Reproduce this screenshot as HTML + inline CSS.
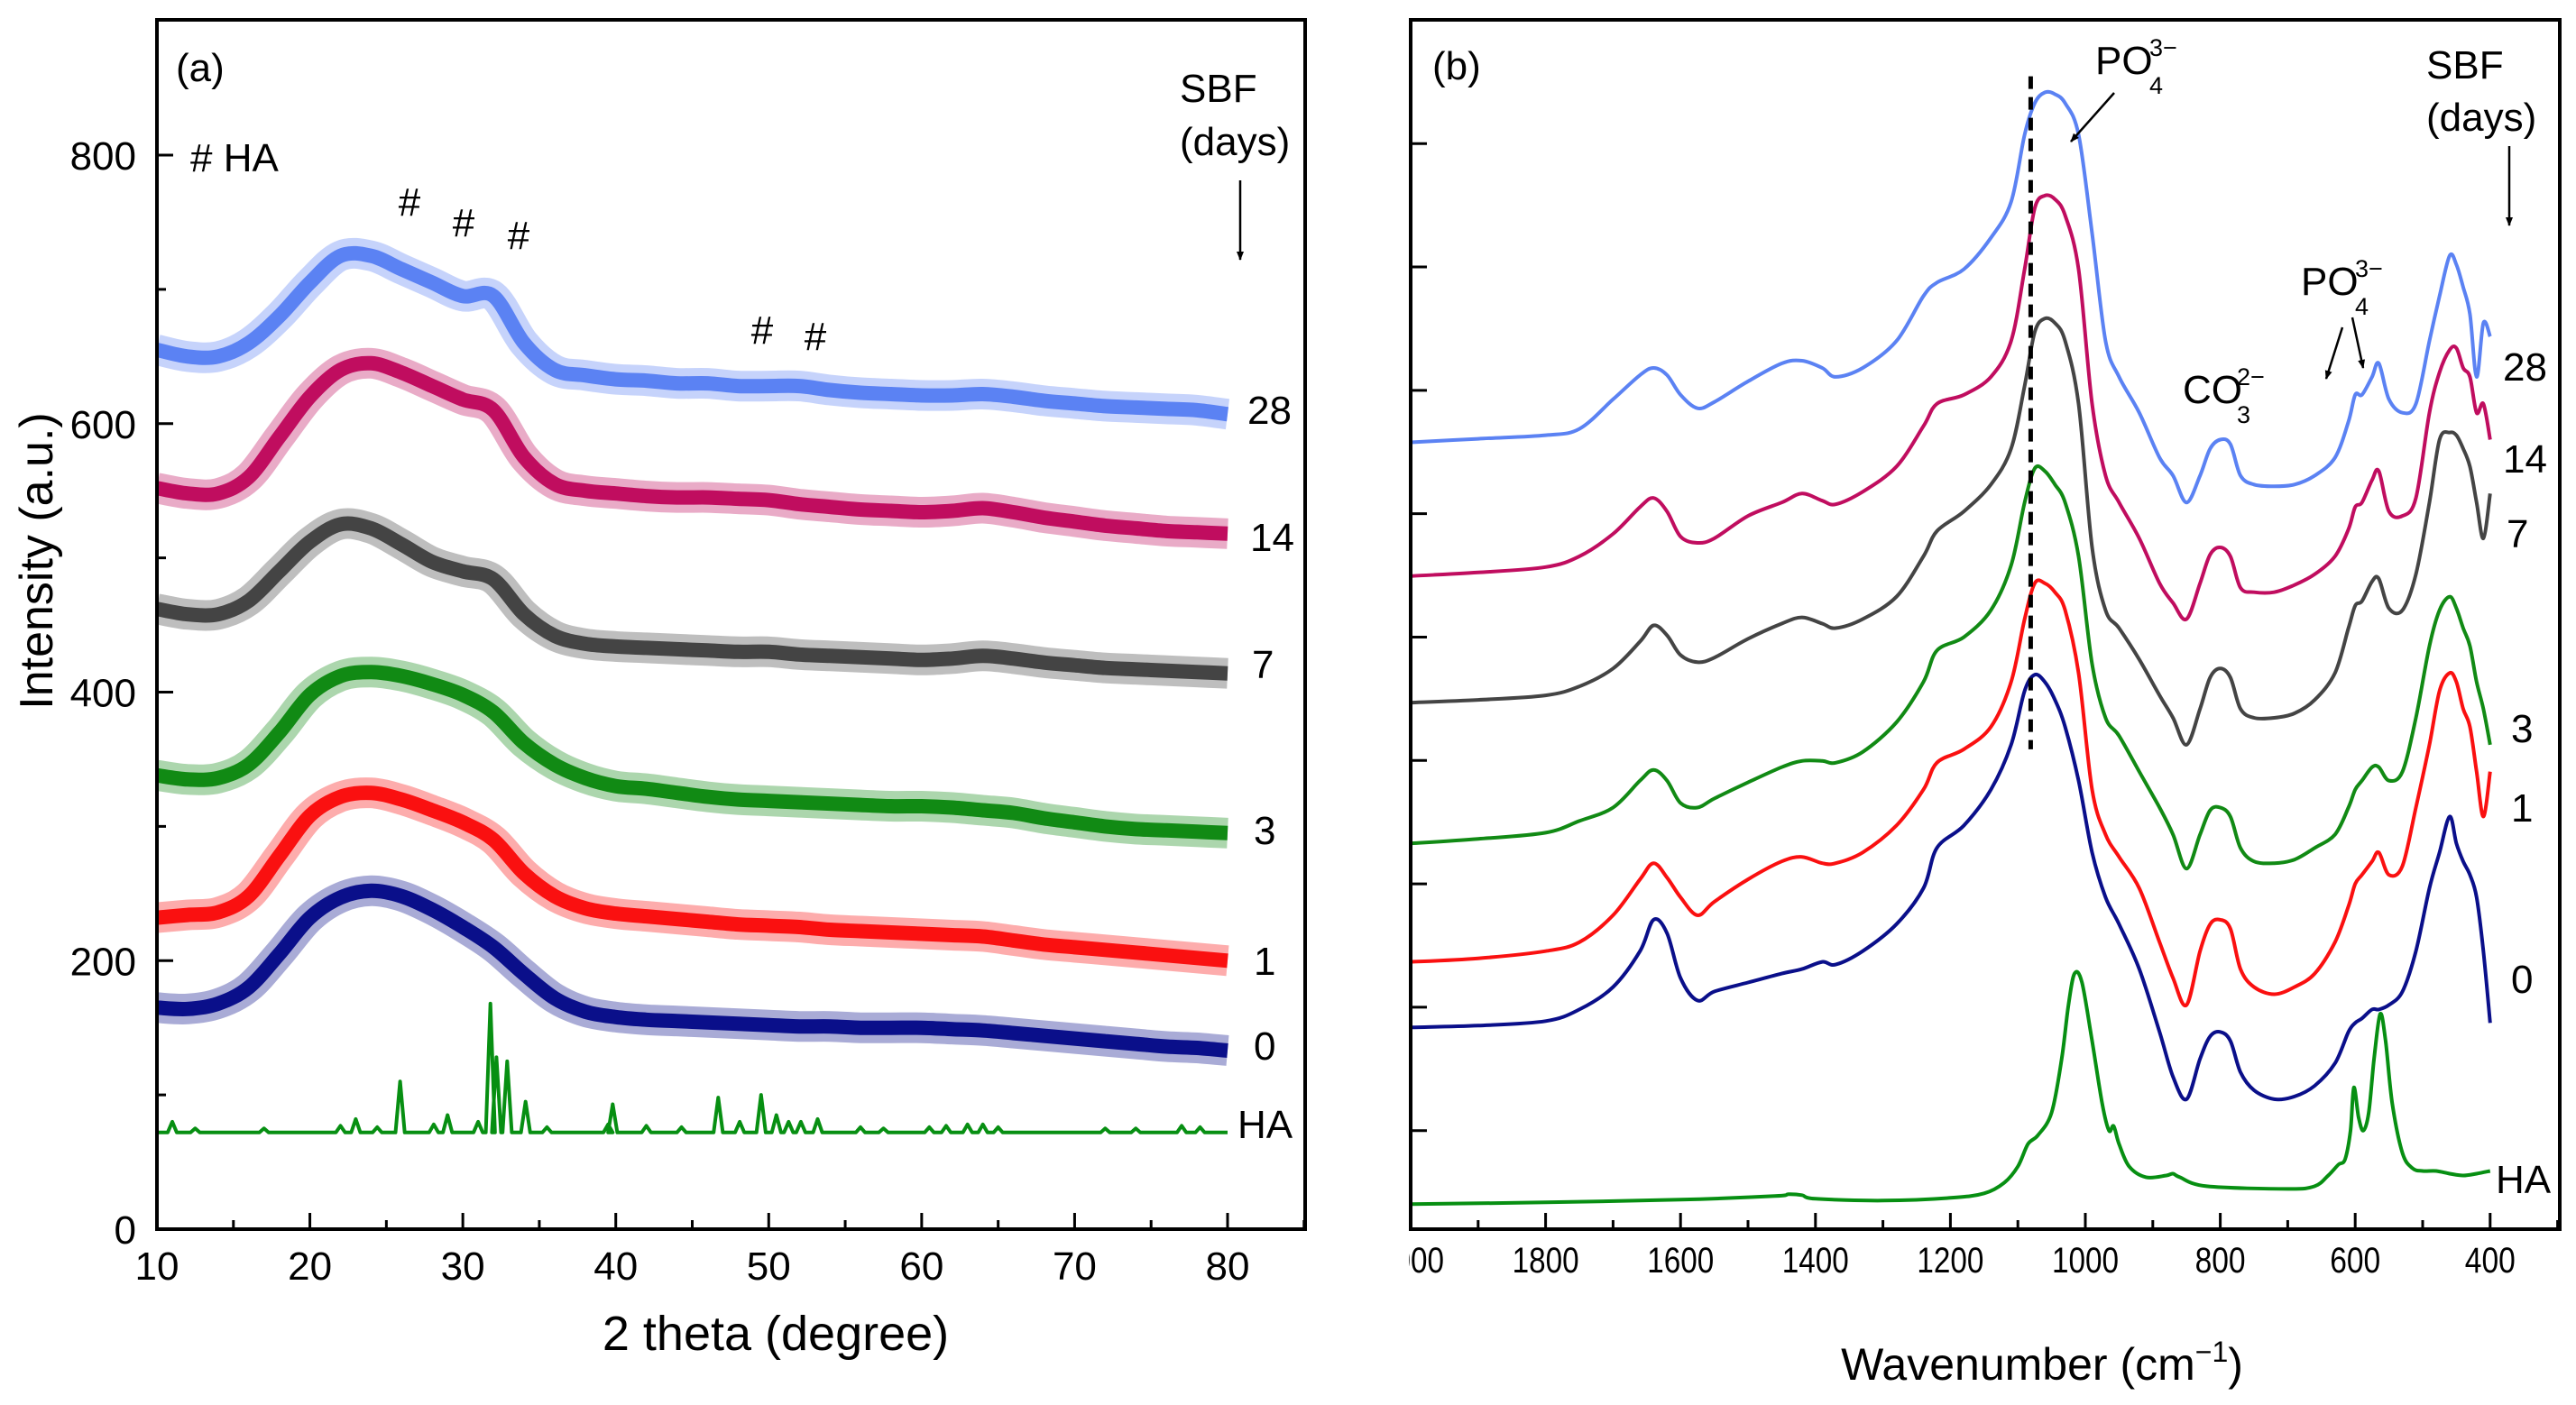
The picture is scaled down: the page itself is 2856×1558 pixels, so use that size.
<!DOCTYPE html>
<html><head><meta charset="utf-8">
<style>
html,body{margin:0;padding:0;background:#fff;}
svg{display:block;}
text{font-family:"Liberation Sans",Arial,sans-serif;fill:#000;}
</style></head>
<body>
<svg id="fig" width="2856" height="1558" viewBox="0 0 2856 1558" xmlns="http://www.w3.org/2000/svg">
<defs>
<marker id="ah" markerWidth="10" markerHeight="10" refX="9" refY="5" orient="auto" markerUnits="userSpaceOnUse" viewBox="0 0 10 10">
<path d="M0,1 L10,5 L0,9 Z" fill="#000"/>
</marker>
<clipPath id="clipA"><rect x="174" y="22" width="1273" height="1341"/></clipPath>
<clipPath id="clipB"><rect x="1564" y="22" width="1274" height="1341"/></clipPath>
<clipPath id="clipLbl"><rect x="1562" y="1360" width="1294" height="100"/></clipPath>
</defs>
<g id="panelA"></g>
<g id="panelB"></g>
</svg>
<script>
// ---------- Panel (a) XRD data ----------
const xrdTheta = [10,12,14,16,18,20,22,24,26,28,30,32,34,36,38,40,42,44,46,48,50,52,54,56,58,60,62,64,66,68,70,72,74,76,78,80];
const xrd28 = [655,650,650,660,680,705,725,725,715,705,695,695,660,640,636,633,632,630,630,628,628,628,625,623,622,621,621,622,620,617,615,613,612,611,610,607];
const xrd14 = [552,548,548,560,590,620,640,645,638,628,618,610,575,555,550,548,546,545,545,544,543,540,538,536,535,534,535,537,534,530,527,524,522,520,519,518];
const xrd7 = [462,458,458,468,490,512,525,522,510,497,490,484,458,442,436,434,433,432,431,430,430,428,427,426,425,424,425,427,425,422,420,418,417,416,415,414];
const xrd3 = [338,335,336,346,370,398,412,415,412,406,398,385,362,346,336,330,328,325,322,320,319,318,317,316,315,315,314,312,310,306,303,300,298,297,296,295];
const xrd1 = [232,234,236,248,278,308,322,325,320,312,303,290,265,248,239,235,233,231,229,227,226,225,223,222,221,220,219,218,215,212,210,208,206,204,202,200];
const xrd0 = [165,164,168,180,205,232,247,252,248,238,225,210,190,172,162,158,156,155,154,153,152,151,151,150,150,150,149,148,146,144,142,140,138,136,135,133];
const haBase = 72;
const haPeakPos = [11,12.5,17,22,23,24.4,25.9,28.1,29,31,31.8,32.2,32.9,34.1,35.5,39.5,39.8,42,44.3,46.7,48.1,49.5,50.5,51.3,52.1,53.2,56,57.5,60.5,61.6,63,64,65,72,74,77,78.2];
const haPeakInt = [80,75,75,77,82,76,110,78,85,80,168,128,125,95,76,78,93,77,76,98,80,100,85,80,80,82,76,75,76,77,78,78,76,75,75,77,76];
const xTicksA = [10,20,30,40,50,60,70,80];
const yTicksA = [0,200,400,600,800];

// ---------- Panel (b) FTIR data ----------
const wn = [2000,1900,1800,1750,1700,1660,1640,1620,1600,1575,1550,1500,1450,1420,1390,1370,1330,1280,1240,1220,1180,1140,1110,1090,1075,1060,1045,1030,1010,990,970,950,920,890,870,850,830,815,800,785,770,750,720,690,660,630,610,600,590,575,565,550,530,510,490,475,460,450,440,430,420,410,400];
const ftir28 = [907,911,915,922,955,982,990,982,960,945,952,975,995,998,990,980,990,1020,1070,1085,1100,1135,1175,1250,1285,1297,1295,1285,1250,1140,1020,980,940,890,870,840,870,900,910,905,870,860,858,860,870,890,930,960,960,980,995,955,940,950,1020,1070,1115,1105,1080,1050,980,1040,1025];
const ftir14 = [758,762,768,780,805,835,845,830,802,795,800,825,840,850,842,838,852,880,925,950,960,980,1020,1100,1168,1182,1178,1160,1100,950,870,840,800,750,728,710,750,782,790,780,745,740,740,748,760,780,810,835,840,865,875,830,825,845,940,985,1010,1012,990,980,940,950,910];
const ftir7 = [617,620,625,635,655,685,703,692,670,662,667,688,705,712,705,700,710,735,780,808,830,860,900,970,1030,1045,1040,1020,950,790,720,700,665,625,600,570,610,645,655,645,610,600,600,605,620,650,700,725,730,752,755,722,720,760,840,910,918,915,900,880,840,800,850];
const ftir3 = [460,465,472,485,500,530,542,530,505,500,510,528,545,552,552,550,562,595,640,675,690,720,770,840,878,875,860,840,780,660,600,580,540,500,470,432,470,497,500,490,455,440,438,442,455,470,500,520,530,545,545,530,540,600,680,720,735,722,700,680,640,610,570];
const ftir1 = [328,332,340,350,380,420,438,422,400,380,395,420,440,445,438,438,450,480,520,550,565,590,640,710,750,750,740,720,650,520,470,445,410,350,310,280,340,370,375,365,320,300,292,300,315,350,390,415,425,440,450,425,435,500,570,630,650,640,610,590,540,490,540];
const ftir0 = [255,257,262,275,300,340,375,360,310,285,295,305,315,320,328,325,340,370,410,455,480,520,570,630,648,640,620,590,530,450,400,370,320,250,200,175,220,245,250,240,205,185,175,178,190,215,250,260,265,275,275,280,295,340,410,450,490,460,440,425,400,340,260];
const haWn = [2000,1800,1600,1460,1440,1420,1400,1300,1200,1150,1120,1100,1085,1070,1050,1035,1025,1016,1005,990,975,965,958,950,935,910,880,870,860,820,700,660,640,625,615,607,602,595,588,580,572,563,555,545,530,515,500,480,460,440,420,400];
const haFtir = [58,60,63,67,69,68,64,62,65,70,82,100,125,135,160,220,280,315,305,240,170,140,145,125,100,88,90,92,88,78,75,78,90,102,108,140,188,155,140,160,220,270,240,170,115,98,95,95,92,90,92,95];
const xTicksB = [2000,1800,1600,1400,1200,1000,800,600,400];
const yTicksB = [140,277.5,415,552.5,690,827.5,965,1102.5,1240];
const dashWn = 1081, dashTop = 1315, dashBottom = 565;

// ---------- scales ----------
const xa = v => 174 + (v - 10) * (1361 - 174) / 70;
const ya = v => 1363 - v * 1.48875;
const xb = v => 1564 + (2000 - v) * 0.748;
const yb = v => 1393 - 0.995 * v;

const NS = "http://www.w3.org/2000/svg";
function mk(tag, attrs, parent) {
  const e = document.createElementNS(NS, tag);
  for (const k in attrs) e.setAttribute(k, attrs[k]);
  parent.appendChild(e);
  return e;
}
function txt(parent, x, y, s, size, anchor) {
  const t = mk("text", {x: x, y: y, "font-size": size, "text-anchor": anchor || "start"}, parent);
  t.textContent = s;
  return t;
}
function pathFrom(xs, ys, fx, fy) {
  let d = "";
  for (let i = 0; i < xs.length; i++) d += (i ? "L" : "M") + fx(xs[i]).toFixed(1) + "," + fy(ys[i]).toFixed(1);
  return d;
}
function smoothFrom(xs, ys, fx, fy) {
  const P = xs.map((x, i) => [fx(x), fy(ys[i])]);
  let d = "M" + P[0][0].toFixed(1) + "," + P[0][1].toFixed(1);
  for (let i = 0; i < P.length - 1; i++) {
    const p0 = P[Math.max(0, i - 1)], p1 = P[i], p2 = P[i + 1], p3 = P[Math.min(P.length - 1, i + 2)];
    const c1x = p1[0] + (p2[0] - p0[0]) / 6, c1y = p1[1] + (p2[1] - p0[1]) / 6;
    const c2x = p2[0] - (p3[0] - p1[0]) / 6, c2y = p2[1] - (p3[1] - p1[1]) / 6;
    d += "C" + c1x.toFixed(1) + "," + c1y.toFixed(1) + " " + c2x.toFixed(1) + "," + c2y.toFixed(1) + " " + p2[0].toFixed(1) + "," + p2[1].toFixed(1);
  }
  return d;
}

// ================= Panel A =================
const A = document.getElementById("panelA");
const gA = mk("g", {"clip-path": "url(#clipA)"}, A);



{
  const xs = [10], ys = [haBase];
  for (let i = 0; i < haPeakPos.length; i++) {
    xs.push(haPeakPos[i] - 0.3); ys.push(haBase);
    xs.push(haPeakPos[i]); ys.push(haPeakInt[i]);
    xs.push(haPeakPos[i] + 0.3); ys.push(haBase);
  }
  xs.push(80); ys.push(haBase);
  const p = mk("path", {d: pathFrom(xs, ys, xa, ya), fill: "none", stroke: "#078f12", "stroke-width": 4, "stroke-linejoin": "round"}, gA);
  
  
}
const seriesA = [
  {d: xrd0, c: "#0a0f8a", n: "xrd-0-days-line"},
  {d: xrd1, c: "#fa1010", n: "xrd-1-day-line"},
  {d: xrd3, c: "#118a14", n: "xrd-3-days-line"},
  {d: xrd7, c: "#444444", n: "xrd-7-days-line"},
  {d: xrd14, c: "#c00d5f", n: "xrd-14-days-line"},
  {d: xrd28, c: "#5b82f3", n: "xrd-28-days-line"}
];
seriesA.forEach(s => {
  const dd = smoothFrom(xrdTheta, s.d, xa, ya);
  const halo = mk("path", {d: dd, fill: "none", stroke: s.c, "stroke-width": 34, "stroke-opacity": 0.35, "stroke-linejoin": "round"}, gA);
  
  
  const p = mk("path", {d: dd, fill: "none", stroke: s.c, "stroke-width": 16, "stroke-linejoin": "round"}, gA);
  
  
});

{
  const r = mk("rect", {x: 174, y: 22, width: 1273, height: 1341, fill: "none", stroke: "#000", "stroke-width": 4}, A);
  
  
}
for (let v = 10; v <= 85; v += 5) {
  const major = v % 10 === 0;
  const l = mk("line", {x1: xa(v), x2: xa(v), y1: 1363, y2: 1363 - (major ? 18 : 10), stroke: "#000", "stroke-width": 3}, A);
  
  
}
xTicksA.forEach(v => {
  const t = txt(A, xa(v), 1419, String(v), 44, "middle");
  
  
});
for (let v = 0; v <= 850; v += 100) {
  const major = v % 200 === 0;
  const l = mk("line", {x1: 174, x2: 174 + (major ? 18 : 10), y1: ya(v), y2: ya(v), stroke: "#000", "stroke-width": 3}, A);
  
  
}
yTicksA.forEach(v => {
  const t = txt(A, 151, ya(v) + 16, String(v), 44, "end");
  
  
});
{
  const t = txt(A, 860, 1497, "2 theta (degree)", 54, "middle");
  
  
  const y = mk("text", {x: 0, y: 0, "font-size": 52, "text-anchor": "middle", transform: "translate(58,622) rotate(-90)"}, A);
  y.textContent = "Intensity (a.u.)";
  
  
}
{
  const t1 = txt(A, 195, 90, "(a)", 44);
  
  
  const t2 = txt(A, 211, 190, "# HA", 44);
  
  
  const t3 = txt(A, 1308, 113, "SBF", 44);
  
  
  const t4 = txt(A, 1308, 172, "(days)", 44);
  
  
  const ar = mk("line", {x1: 1375, y1: 200, x2: 1375, y2: 288, stroke: "#000", "stroke-width": 2.5, "marker-end": "url(#ah)"}, A);
  
  
}
[[454,239],[514,262],[575,276],[845,381],[904,388]].forEach(p => {
  const t = txt(A, p[0], p[1], "#", 44, "middle");
  
  
});
[["28",1383,470],["14",1386,611],["7",1388,752],["3",1390,936],["1",1390,1081],["0",1390,1175],["HA",1372,1262]].forEach(p => {
  const t = txt(A, p[1], p[2], p[0], 44, "start");
  
  
});

// ================= Panel B =================
const B = document.getElementById("panelB");
const gB = mk("g", {"clip-path": "url(#clipB)"}, B);


const seriesB = [
  {x: haWn, d: haFtir, c: "#078f12", n: "ftir-ha-line"},
  {x: wn, d: ftir0, c: "#0a0f8a", n: "ftir-0-days-line"},
  {x: wn, d: ftir1, c: "#fa1010", n: "ftir-1-day-line"},
  {x: wn, d: ftir3, c: "#118a14", n: "ftir-3-days-line"},
  {x: wn, d: ftir7, c: "#444444", n: "ftir-7-days-line"},
  {x: wn, d: ftir14, c: "#c00d5f", n: "ftir-14-days-line"},
  {x: wn, d: ftir28, c: "#5b82f3", n: "ftir-28-days-line"}
];
seriesB.forEach(s => {
  const p = mk("path", {d: smoothFrom(s.x, s.d, xb, yb), fill: "none", stroke: s.c, "stroke-width": 4, "stroke-linejoin": "round"}, gB);
  
  
});
{
  const l = mk("line", {x1: xb(dashWn), x2: xb(dashWn), y1: yb(dashTop), y2: yb(dashBottom), stroke: "#000", "stroke-width": 5, "stroke-dasharray": "14 9"}, B);
  
  
}
{
  const r = mk("rect", {x: 1564, y: 22, width: 1274, height: 1341, fill: "none", stroke: "#000", "stroke-width": 4}, B);
  
  
}
for (let v = 2000; v >= 300; v -= 100) {
  const major = v % 200 === 0;
  const l = mk("line", {x1: xb(v), x2: xb(v), y1: 1363, y2: 1363 - (major ? 18 : 10), stroke: "#000", "stroke-width": 3}, B);
  
  
}
const lblG = mk("g", {"clip-path": "url(#clipLbl)"}, B);


xTicksB.forEach(v => {
  const t = mk("text", {x: xb(v), y: 1411, "font-size": 40, "text-anchor": "middle", textLength: 74, lengthAdjust: "spacingAndGlyphs"}, lblG);
  t.textContent = String(v);
  if (v < 1000) { t.setAttribute("textLength", 56); }
  
  
});
yTicksB.forEach(v => {
  const l = mk("line", {x1: 1564, x2: 1582, y1: yb(v), y2: yb(v), stroke: "#000", "stroke-width": 3}, B);
  
  
});
{
  const t = mk("text", {x: 2264, y: 1530, "font-size": 50, "text-anchor": "middle"}, B);
  t.innerHTML = 'Wavenumber (cm<tspan font-size="32" dy="-20">−1</tspan><tspan dy="20">)</tspan>';
  
  
}
function ion(parent, x, y, base, sub, sup, name) {
  const t = mk("text", {x: x, y: y, "font-size": 44}, parent);
  t.textContent = base;
  
  
  const w = base.length * 29;
  const s1 = mk("text", {x: x + w + 2, y: y + 22, "font-size": 27}, parent);
  s1.textContent = sub;
  
  
  const s2 = mk("text", {x: x + w + 2, y: y - 20, "font-size": 27}, parent);
  s2.textContent = sup;
  
  
}
{
  const t = txt(B, 1588, 88, "(b)", 44);
  
  
}
ion(B, 2323, 82, "PO", "4", "3−", "phosphate-label-main");
ion(B, 2551, 327, "PO", "4", "3−", "phosphate-label-secondary");
ion(B, 2420, 447, "CO", "3", "2−", "carbonate-label");
[[2344,103,2296,157],[2597,363,2579,420],[2608,352,2620,408]].forEach(a => {
  const l = mk("line", {x1: a[0], y1: a[1], x2: a[2], y2: a[3], stroke: "#000", "stroke-width": 2.5, "marker-end": "url(#ah)"}, B);
  
  
});
{
  const t3 = txt(B, 2690, 87, "SBF", 44);
  
  
  const t4 = txt(B, 2690, 145, "(days)", 44);
  
  
  const ar = mk("line", {x1: 2782, y1: 162, x2: 2782, y2: 250, stroke: "#000", "stroke-width": 2.5, "marker-end": "url(#ah)"}, B);
  
  
}
[["28",2775,422],["14",2775,524],["7",2779,607],["3",2784,823],["1",2784,911],["0",2784,1101],["HA",2767,1323]].forEach(p => {
  const t = txt(B, p[1], p[2], p[0], 44, "start");
  
  
});
</script>
</body></html>
